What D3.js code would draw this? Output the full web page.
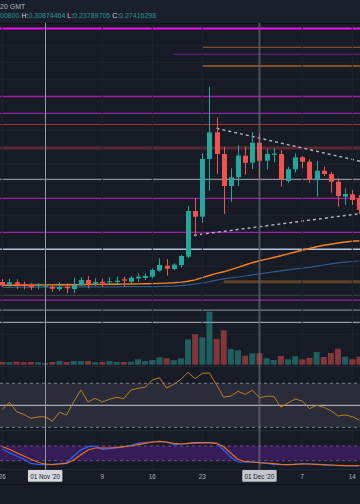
<!DOCTYPE html>
<html><head><meta charset="utf-8">
<script src="https://cdn.jsdelivr.net/npm/d3@7"></script>
<style>html,body{margin:0;padding:0;background:#171b26;overflow:hidden}svg{display:block}</style>
</head><body><svg id="c" width="360" height="504"></svg>
<script>
// ---------- DATA ----------
const firstDay = "2020-10-26";
const opens = [0.0900,0.0873,0.0897,0.0880,0.0870,0.0863,0.0860,0.0853,0.0830,0.0853,
0.0830,0.0867,0.0920,0.0883,0.0903,0.0897,0.0900,0.0927,0.0903,0.0937,
0.0940,0.0953,0.1013,0.1063,0.1030,0.1070,0.1153,0.1610,0.1553,0.2130,
0.2397,0.2180,0.1860,0.1947,0.2163,0.2093,0.2293,0.2113,0.2172,0.2180,
0.1910,0.2027,0.2147,0.2103,0.1927,0.2013,0.1980,0.1903,0.1753,0.1777,0.1737];
const highs = [0.0930,0.0930,0.0927,0.0903,0.0887,0.0890,0.0880,0.0870,0.0897,0.0887,
0.0943,0.0947,0.0960,0.0937,0.0933,0.0947,0.0953,0.0953,0.0960,0.0987,
0.0987,0.1037,0.1137,0.1130,0.1087,0.1170,0.1660,0.1737,0.2187,0.2853,
0.2545,0.2253,0.2037,0.2267,0.2257,0.2400,0.2387,0.2235,0.2240,0.2220,
0.2053,0.2187,0.2160,0.2127,0.2113,0.2053,0.2003,0.1937,0.1837,0.1820,0.1770];
const lows = [0.0850,0.0847,0.0830,0.0827,0.0820,0.0827,0.0840,0.0803,0.0810,0.0787,
0.0787,0.0860,0.0837,0.0860,0.0847,0.0880,0.0880,0.0853,0.0887,0.0903,
0.0920,0.0937,0.1003,0.0963,0.1020,0.1047,0.1137,0.1353,0.1493,0.1813,
0.1983,0.1580,0.1703,0.1860,0.1973,0.2030,0.1920,0.2027,0.2097,0.1853,
0.1893,0.1993,0.2037,0.1893,0.1753,0.1960,0.1793,0.1653,0.1670,0.1670,0.1580];
const closes = [0.0865,0.0897,0.0867,0.0860,0.0847,0.0870,0.0865,0.0833,0.0850,0.0837,
0.0870,0.0920,0.0880,0.0900,0.0887,0.0907,0.0913,0.0913,0.0943,0.0953,
0.0960,0.1020,0.1070,0.1033,0.1073,0.1160,0.1610,0.1553,0.2130,0.2397,
0.2180,0.1860,0.1947,0.2165,0.2092,0.2293,0.2112,0.2180,0.2185,0.1927,
0.2027,0.2147,0.2103,0.1927,0.2013,0.1980,0.1903,0.1760,0.1780,0.1720,0.1620];
const volumes = [27,24,30,24,27,24,17,27,37,27,
37,37,37,24,27,37,27,27,30,54,
37,47,74,64,44,64,254,304,274,530,
257,344,157,144,90,114,114,64,47,87,
54,84,54,67,127,77,117,160,80,54,80];
const maFast = [0.0867,0.0868,0.0868,0.0869,0.0870,0.0870,0.0871,0.0871,0.0872,0.0872,
0.0873,0.0874,0.0875,0.0876,0.0876,0.0877,0.0878,0.0879,0.0880,0.0881,
0.0882,0.0884,0.0886,0.0889,0.0893,0.0899,0.0908,0.0921,0.0943,0.0965,
0.0986,0.1002,0.1023,0.1047,0.1070,0.1093,0.1112,0.1129,0.1145,0.1162,
0.1181,0.1200,0.1218,0.1235,0.1252,0.1267,0.1278,0.1290,0.1300,0.1307,0.1313];
const maSlow = [0.0847,0.0847,0.0848,0.0848,0.0848,0.0849,0.0849,0.0849,0.0850,0.0850,
0.0850,0.0851,0.0851,0.0851,0.0852,0.0852,0.0852,0.0853,0.0853,0.0853,
0.0854,0.0854,0.0855,0.0856,0.0858,0.0864,0.0871,0.0880,0.0890,0.0903,
0.0918,0.0932,0.0942,0.0950,0.0960,0.0972,0.0982,0.0992,0.1002,0.1011,
0.1021,0.1031,0.1038,0.1047,0.1058,0.1070,0.1082,0.1092,0.1098,0.1105,0.1110];
const rsi = [46.4,52.7,44.2,41.8,38.2,39.4,39.6,35.5,43.6,41.2,
53.3,63.9,53.0,56.4,53.0,55.5,57.3,56.0,63.9,65.5,
66.4,73.0,75.1,65.7,69.1,73.6,80.0,74.2,79.1,79.4,
68.5,57.3,58.5,62.7,60.0,63.6,56.9,58.2,58.2,48.2,
52.1,55.7,53.9,46.9,50.0,48.2,45.1,40.3,41.2,39.6,36.6];
const stochK = [66.5,52.7,39.2,25.7,9.4,5.3,3.7,5.3,7.8,11.8,
39.2,63.7,77.1,80.0,66.5,69.0,73.1,75.9,82.9,91.0,
93.5,96.3,99.2,96.3,85.3,88.2,91.0,91.0,92.2,93.5,
91.0,63.7,33.9,14.7,14.7,14.7,11.8,9.4,5.3,3.7,
3.7,5.3,7.8,6.5,5.3,2.4,1.2,0.5,0.2,0.1,0.1];
const stochD = [77.1,66.5,52.7,39.2,25.7,13.5,6.5,3.7,6.5,9.4,
22.9,44.5,63.7,71.8,71.8,71.8,73.1,77.1,80.0,85.3,
91.0,96.3,99.2,96.3,91.0,88.2,91.0,93.5,93.5,93.5,
91.0,77.1,50.2,25.7,15.9,14.7,11.8,10.6,7.8,5.3,
3.7,5.3,6.5,6.5,5.3,3.7,2.4,1.2,0.2,0.2,0.1];

const tickDates  = ["2020-10-26","2020-11-01","2020-11-09","2020-11-16","2020-11-23","2020-12-01","2020-12-07","2020-12-14"];
const tickLabels = ["26","01 Nov '20","9","16","23","01 Dec '20","7","14"];
const markedDates = ["2020-11-01","2020-12-01"];

const levelPrices = [0.3435,0.3247,0.3178,0.3060,0.2755,0.2587,0.2475,0.2240,0.1927,0.1737,0.1397,0.1227,0.0902,0.0767,0.0718,0.0618,0.0497];
const levelStarts = [null,"2020-11-23","2020-11-19","2020-11-23",null,null,null,null,null,null,null,null,"2020-11-26",null,null,null,null];

const trendUpperDates = ["2020-11-25","2020-12-15"];
const trendUpperPrices = [0.2437,0.2109];
const trendLowerDates = ["2020-11-21","2020-12-15"];
const trendLowerPrices = [0.1360,0.1583];

const headerLine1 = "20 GMT";
const headerParts = [["00800 ","v"],["H:","k"],["0.30874464","v"],[" L:","k"],["0.23789705","v"],[" C:","k"],["0.27416298","v"]];

// ---------- STYLE ----------
const levelStyles = [
 {c:"#f010f0",w:2},{c:"#9a5a2c",w:1},{c:"#6e1f9e",w:1},{c:"#8a4a22",w:2},
 {c:"#a51aa8",w:1.3},{c:"#8e24aa",w:1.3},{c:"#a3302a",w:1.2},{c:"#5a2a30",w:3},
 {c:"#8c8f96",w:1.2},{c:"#a51aa8",w:1.3},{c:"#a51aa8",w:1.3},{c:"#b0c4de",w:1.5},
 {c:"#5e4425",w:3},{c:"#44474f",w:1},{c:"#a51aa8",w:1.3},{c:"#7e8189",w:1.2},{c:"#9a9da4",w:1.2}];
const UP="#26a69a", DN="#ef5350";
const FONT="'Liberation Sans', Arial, sans-serif";

// ---------- SCALES ----------
const W=360, H=504;
const parse = d3.utcParse("%Y-%m-%d");
const d0 = parse(firstDay);
const dates = opens.map((_,i)=>d3.utcDay.offset(d0,i));
const x = d3.scaleUtc().domain([parse("2020-10-26"),parse("2020-12-14")]).range([2.3,352.3]);
const y = d3.scaleLinear().domain([0,0.36]).range([372,12]);
const yv = d3.scaleLinear().domain([0,530]).range([364.7,311.7]);
const yr = d3.scaleLinear().domain([0,100]).range([460.3,350.3]);
const ys = d3.scaleLinear().domain([0,100]).range([465.6,441.1]);

const svg = d3.select("#c");
svg.append("rect").attr("width",W).attr("height",H).attr("fill","#171b26");
const defs = svg.append("defs");
const clip = (id,y0,y1)=>defs.append("clipPath").attr("id",id).append("rect").attr("x",0).attr("y",y0).attr("width",W).attr("height",y1-y0);
clip("cm",24,366); clip("cr",367,430); clip("cs",431,470);

// header
svg.append("rect").attr("x",0).attr("y",0).attr("width",W).attr("height",23).attr("fill","#1b1f2b");
svg.append("line").attr("x1",0).attr("x2",W).attr("y1",23.5).attr("y2",23.5).attr("stroke","#0d1016");
svg.append("text").attr("x",0).attr("y",9).attr("font-family",FONT).attr("font-size",7).attr("fill","#b2b5be").text(headerLine1);
const ht = svg.append("text").attr("x",0).attr("y",17.5).attr("font-family",FONT).attr("font-size",7);
headerParts.forEach(p=>ht.append("tspan").attr("fill",p[1]==="v"?"#1f9a8e":"#d1d4dc").attr("xml:space","preserve").text(p[0]));

// grid
const gm = svg.append("g").attr("clip-path","url(#cm)");
d3.range(0.3267,0.03,-0.017).forEach(p=>gm.append("line").attr("x1",0).attr("x2",W).attr("y1",y(p)).attr("y2",y(p)).attr("stroke","#1f2330").attr("stroke-width",1));
const vg = svg.append("g");
tickDates.forEach(t=>vg.append("line").attr("x1",x(parse(t))).attr("x2",x(parse(t))).attr("y1",24).attr("y2",470).attr("stroke","#1f2330"));

// pane separators
[366.5,430.5,469.5].forEach(v=>svg.append("line").attr("x1",0).attr("x2",W).attr("y1",v).attr("y2",v).attr("stroke","#232734"));

// volume
const gv = svg.append("g").attr("clip-path","url(#cm)");
gv.selectAll("rect").data(volumes).join("rect")
 .attr("x",(d,i)=>x(dates[i])-3).attr("width",6)
 .attr("y",d=>yv(d)).attr("height",d=>yv(0)-yv(d))
 .attr("fill",(d,i)=>closes[i]>=opens[i]?UP:DN).attr("fill-opacity",0.5);

// levels
levelPrices.forEach((p,i)=>{
  const st=levelStyles[i];
  gm.append("line").attr("x1",levelStarts[i]?x(parse(levelStarts[i])):0).attr("x2",W)
   .attr("y1",y(p)).attr("y2",y(p)).attr("stroke",st.c).attr("stroke-width",st.w);
});

// MAs
const line = (arr)=>d3.line().x((d,i)=>x(dates[i])).y(d=>y(d))(arr);
gm.append("path").attr("d",line(maSlow)).attr("fill","none").attr("stroke","#2f5a86").attr("stroke-width",1.2);
gm.append("path").attr("d",line(maFast)).attr("fill","none").attr("stroke","#f5841f").attr("stroke-width",1.4);

// trend lines
function trend(ds,ps){
  const x0=x(parse(ds[0])), x1=x(parse(ds[1])), y0=y(ps[0]), y1=y(ps[1]);
  const slope=(y1-y0)/(x1-x0);
  gm.append("line").attr("x1",x0).attr("y1",y0).attr("x2",W).attr("y2",y0+slope*(W-x0))
   .attr("stroke","#b2b5be").attr("stroke-width",1.4).attr("stroke-dasharray","3,3");
}
trend(trendUpperDates,trendUpperPrices);
trend(trendLowerDates,trendLowerPrices);

// candles
const gc = svg.append("g").attr("clip-path","url(#cm)");
opens.forEach((o,i)=>{
  const c=closes[i], col=c>=o?UP:DN, cx=Math.round(x(dates[i]))+0.5;
  gc.append("line").attr("x1",cx).attr("x2",cx).attr("y1",y(highs[i])).attr("y2",y(lows[i])).attr("stroke",col).attr("stroke-width",1);
  const t=y(Math.max(o,c)), b=y(Math.min(o,c));
  gc.append("rect").attr("x",cx-2.5).attr("width",5).attr("y",t).attr("height",Math.max(1,b-t)).attr("fill",col);
});

// RSI pane
const gr = svg.append("g").attr("clip-path","url(#cr)");
gr.append("rect").attr("x",0).attr("width",W).attr("y",yr(70)).attr("height",yr(30)-yr(70)).attr("fill","#2a2d39");
[70,30].forEach(v=>gr.append("line").attr("x1",0).attr("x2",W).attr("y1",yr(v)).attr("y2",yr(v)).attr("stroke","#787b86").attr("stroke-dasharray","3,3"));
gr.append("line").attr("x1",0).attr("x2",W).attr("y1",yr(50)).attr("y2",yr(50)).attr("stroke","#c8c9cc").attr("stroke-width",1);
gr.append("path").attr("d",d3.line().x((d,i)=>x(dates[i])).y(d=>yr(d))(rsi)).attr("fill","none").attr("stroke","#b8801f").attr("stroke-width",1);

// Stoch pane
const gs = svg.append("g").attr("clip-path","url(#cs)");
gs.append("rect").attr("x",0).attr("width",W).attr("y",ys(80)).attr("height",ys(20)-ys(80)).attr("fill","#361d57");
[80,20].forEach(v=>gs.append("line").attr("x1",0).attr("x2",W).attr("y1",ys(v)).attr("y2",ys(v)).attr("stroke","#6d4c9a").attr("stroke-dasharray","3,3"));
gs.append("path").attr("d",d3.line().x((d,i)=>x(dates[i])).y(d=>ys(d))(stochK)).attr("fill","none").attr("stroke","#2962ff").attr("stroke-width",1.2);
gs.append("path").attr("d",d3.line().x((d,i)=>x(dates[i])).y(d=>ys(d))(stochD)).attr("fill","none").attr("stroke","#e8711f").attr("stroke-width",1.2);

// marker lines
svg.append("line").attr("x1",x(parse(markedDates[1]))).attr("x2",x(parse(markedDates[1]))).attr("y1",23).attr("y2",470).attr("stroke","#787b86").attr("stroke-opacity",0.55).attr("stroke-width",2);
svg.append("line").attr("x1",Math.round(x(parse(markedDates[0])))+0.5).attr("x2",Math.round(x(parse(markedDates[0])))+0.5).attr("y1",23).attr("y2",470).attr("stroke","#9598a1").attr("stroke-width",1);

// time axis
svg.append("line").attr("x1",0).attr("x2",W).attr("y1",484.5).attr("y2",484.5).attr("stroke","#0d1016");
tickDates.forEach((t,i)=>{
  const cx=x(parse(t)), boxed=markedDates.includes(t);
  if(boxed){
    svg.append("rect").attr("x",cx-17.2).attr("y",470).attr("width",34.4).attr("height",11.7).attr("rx",1)
      .attr("fill",i===1?"#d6d8dd":"#c4c6cc");
  }
  svg.append("text").attr("x",cx).attr("y",478.5).attr("text-anchor","middle").attr("font-family",FONT)
    .attr("font-size",6.3).attr("fill",boxed?"#131722":"#b2b5be").text(tickLabels[i]);
});
</script></body></html>
